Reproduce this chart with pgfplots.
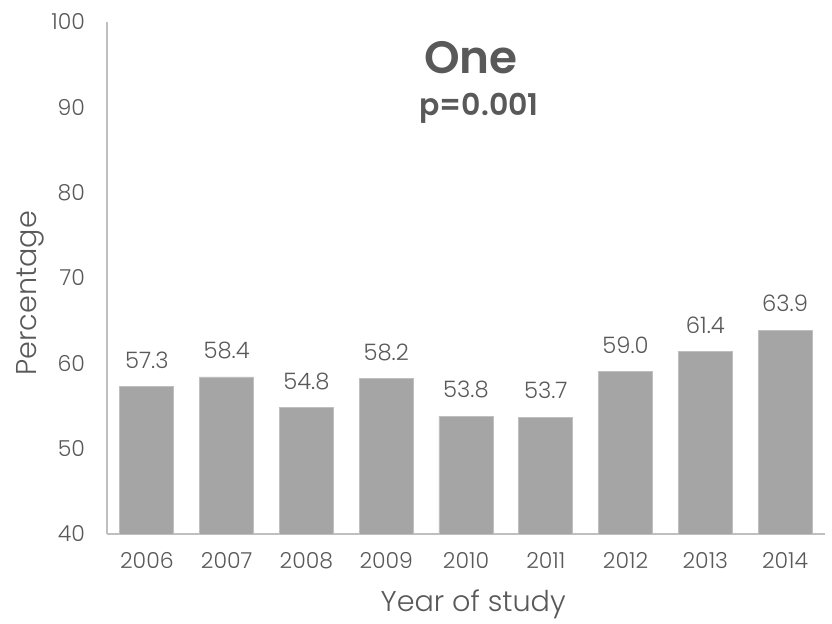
\documentclass[border=0pt]{standalone}
\usepackage{pgfplots}
\pgfplotsset{compat=1.18}
\usepackage{fontspec}
\setmainfont{Poppins}[UprightFont=* Light, BoldFont=* SemiBold]
\definecolor{txt}{HTML}{595959}
\definecolor{barc}{HTML}{A5A5A5}
\definecolor{axc}{HTML}{BFBFBF}
\begin{document}
\begin{tikzpicture}
\useasboundingbox (-80.25pt,-67.5pt) rectangle (543.75pt,400.5pt);
\begin{axis}[
  scale only axis,
  width=538.5pt, height=384pt,
  ymin=40, ymax=100, ytick={40,50,...,100},
  xmin=-0.5, xmax=8.5,
  xtick=data,
  xticklabels={2006,2007,2008,2009,2010,2011,2012,2013,2014},
  axis x line*=bottom, axis y line*=left,
  axis line style={draw=axc, line width=1.2pt},
  x axis line style={-}, y axis line style={-},
  major tick length=0pt,
  /pgf/number format/assume math mode=true,
  tick label style={font=\fontsize{16.5}{20}\selectfont, text=txt},
  yticklabel style={xshift=-13pt},
  xticklabel style={yshift=-10pt},
  xlabel={Year of study}, ylabel={Percentage},
  label style={font=\fontsize{21.5}{24}\selectfont, text=txt},
  xlabel style={at={(axis description cs:0.51,-0.137)}, anchor=center},
  ylabel style={at={(axis description cs:-0.107,0.47)}, anchor=center, rotate=0},
  ybar, bar width=40.5pt,
  bar shift=0pt,
  nodes near coords,
  nodes near coords style={font=\fontsize{17}{20}\selectfont, text=txt, anchor=south, yshift=10pt,
    /pgf/number format/.cd, fixed, fixed zerofill, precision=1, assume math mode=true},
  clip=false,
]
\addplot[fill=barc, draw=axc, line width=0.6pt] coordinates {
  (0,57.3) (1,58.4) (2,54.8) (3,58.2) (4,53.8) (5,53.7) (6,59.0) (7,61.4) (8,63.9)
};
\end{axis}
\node[text=txt, font=\fontsize{34}{38}\selectfont\bfseries] at (273pt,357pt) {One};
\node[text=txt, font=\fontsize{22.5}{26}\selectfont\bfseries] at (279pt,319pt) {p=0.001};
\end{tikzpicture}
\end{document}
